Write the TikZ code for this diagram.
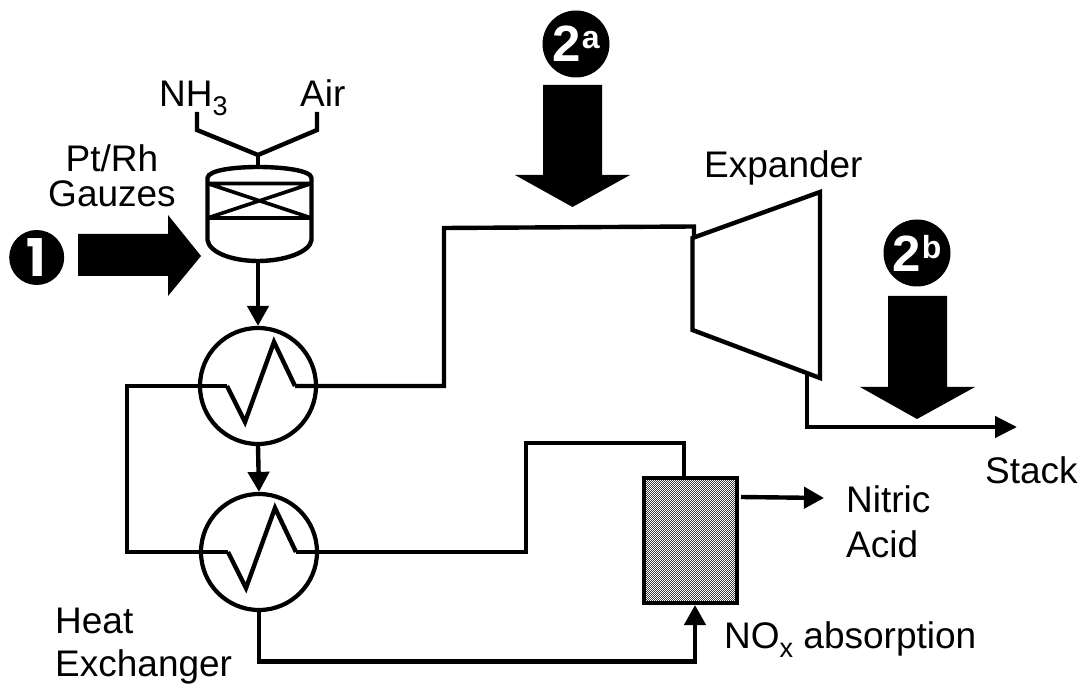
\documentclass[tikz,border=0pt]{standalone}
\usepackage{fontspec}
\setmainfont{Liberation Sans}
\newfontfamily\badgeone{Poppins}[Scale=1]
\usetikzlibrary{patterns,arrows.meta}
\pgfdeclarepatternformonly{fineg}{\pgfqpoint{-0.5pt}{-0.5pt}}{\pgfqpoint{2.5pt}{2.5pt}}{\pgfqpoint{2pt}{2pt}}{%
  \pgfpathrectangle{\pgfqpoint{0pt}{0pt}}{\pgfqpoint{1pt}{1pt}}\pgfusepath{fill}%
  \pgfpathrectangle{\pgfqpoint{1pt}{1pt}}{\pgfqpoint{1pt}{1pt}}\pgfusepath{fill}}
\tikzset{
  pipe/.style={line width=4.4pt,line join=miter},
  flow/.style={pipe,-{Triangle[length=20pt,width=21pt]}},
  bigarrow/.style={fill=black,draw=none},
  badge/.style={circle,fill=black,minimum size=67pt,inner sep=0pt,text=white},
  lab/.style={anchor=base west,inner sep=0pt,font=\fontsize{37}{37}\selectfont},
  labc/.style={anchor=base,inner sep=0pt,font=\fontsize{37}{37}\selectfont},
  hx/.style={circle,draw=black,line width=4.2pt,minimum size=116pt,inner sep=0pt},
}
\newcommand{\badgetxt}[1]{\bfseries\fontsize{51}{51}\selectfont 2\kern1pt\raisebox{13pt}{\fontsize{32}{32}\selectfont #1}}
\newcommand{\subtxt}[1]{\raisebox{-9pt}{\fontsize{27}{27}\selectfont #1}}
\begin{document}
\begin{tikzpicture}[x=1pt,y=-1pt]
\useasboundingbox (0,0) rectangle (1082,684);
% big arrows and badges
\node[badge,minimum size=55pt] (b1) at (36.7,257.5) {\badgeone\bfseries\fontsize{52}{52}\selectfont 1};
\fill[bigarrow] (78,234)--(168,234)--(168,215)--(201,256)--(168,296)--(168,276)--(78,276)--cycle;
\node[badge] (b2a) at (576,44) {\badgetxt{a}};
\fill[bigarrow] (543,85)--(602,85)--(602,175)--(630,175)--(572.5,207)--(515,175)--(543,175)--cycle;
\node[badge] (b2b) at (917,253) {\badgetxt{b}};
\fill[bigarrow] (888,296)--(947,296)--(947,387)--(975,387)--(917,419)--(860,387)--(888,387)--cycle;
% labels
\node[lab] (nh) at (159,107) {NH\subtxt{3}};
\node[lab] (air) at (300,107) {Air};
\node[labc] (pt) at (112,172) {Pt/Rh};
\node[labc] (gz) at (112,207) {Gauzes};
\node[lab] (exp) at (704,178) {Expander};
\node[lab] (stack) at (985,483) {Stack};
\node[lab] (nit) at (846,512) {Nitric};
\node[lab] (acid) at (846,557) {Acid};
\node[lab] (nox) at (724,648) {NO\subtxt{x} absorption};
\node[lab] (heat) at (55,633) {Heat};
\node[lab] (exch) at (55,676) {Exchanger};
% reactor
\coordinate (rin) at (258,155);
\coordinate (rtop) at (258,167);
\coordinate (rbot) at (258,261);
\draw[pipe] (197,112)--(197,130)--(rin)--(317,130)--(317,112);
\draw[pipe] (rin)--(rtop);
\draw[pipe] (207.5,183.5) -- (207.5,178) .. controls (208,170) and (235,167) .. (rtop)
  .. controls (281,167) and (311,170) .. (311.5,178) -- (311.5,240)
  .. controls (310,252) and (285,261) .. (rbot) .. controls (231,261) and (209,252) .. (207.5,240) -- cycle;
\draw[line width=3.6pt] (207.5,183.5)--(311.5,183.5) (207.5,218)--(311.5,218) (207.5,183.5)--(311.5,218) (311.5,183.5)--(207.5,218);
% heat exchangers
\node[hx] (h1) at (258,386) {};
\node[hx] (h2) at (259,552) {};
\draw[flow] (rbot)--(h1.north);
\draw[flow] (h1.south)--(h2.north);
\draw[pipe] (h1.center) ++(-31,0) coordinate (a1) -- ++(18,36) -- ++(29,-80) -- ++(21,44) coordinate (a2);
\draw[pipe] (h2.center) ++(-31,0) coordinate (c1) -- ++(18,36) -- ++(29,-80) -- ++(21,44) coordinate (c2);
\draw[pipe] (a1) -- (127,386) -- (127,552) -- (c1);
% expander
\coordinate (t1) at (692.5,238);
\coordinate (t2) at (820,192);
\coordinate (t3) at (820,378);
\coordinate (t4) at (692.5,330);
\draw[pipe] (t1)--(t2)--(t3)--(t4)--cycle;
\coordinate (tin) at (694,226.5);
\coordinate (tin2) at (694,238);
\draw[pipe] (a2) -- (444,386) -- (444,228) -- (tin) -- (tin2);
% absorber
\node[draw=black,line width=4pt,pattern=fineg,pattern color=black!75,minimum width=93pt,minimum height=125pt,inner sep=0pt] (abs) at (690.5,540.5) {};
\coordinate (abin) at (684,478);
\draw[pipe] (c2) -- (526,552) -- (526,443) -- (684,443) -- (abin);
\coordinate (sout) at (807,373);
\coordinate (stk) at (1017,427);
\draw[pipe,-{Triangle[length=22pt,width=21pt]}] (sout) -- (807,427) -- (stk);
\coordinate (noa) at (824,498);
\coordinate (nob) at (741,497);
\draw[flow] (nob) -- (noa);
\coordinate (aend) at (695,605);
\draw[flow] (h2.south) -- (259,661.5) -- (695,661.5) -- (aend);
\end{tikzpicture}
\end{document}
